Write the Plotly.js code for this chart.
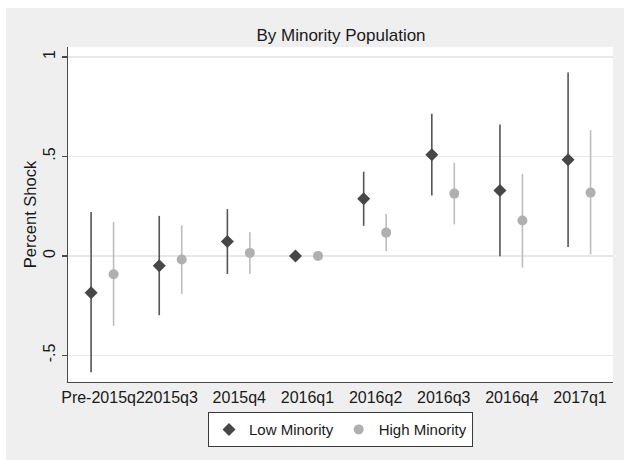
<!DOCTYPE html>
<html>
<head>
<meta charset="utf-8">
<script src="https://cdn.plot.ly/plotly-3.0.1.min.js"></script>
<style>html,body{margin:0;padding:0;background:#fff;}#chart{width:624px;height:460px;}</style>
</head>
<body>
<div id="chart"></div>
<script>
// Categories and tick labels
const categories = ["Pre-2015q2", "2015q3", "2015q4", "2016q1", "2016q2", "2016q3", "2016q4", "2017q1"];
const catPos = [1, 2, 3, 4, 5, 6, 7, 8];

// Low Minority: point estimates and CI bounds
const lowEst   = [-0.185, -0.049, 0.072, 0.000, 0.287, 0.508, 0.329, 0.483];
const lowLower = [-0.585, -0.298, -0.091, 0.000, 0.151, 0.303, -0.002, 0.044];
const lowUpper = [0.220, 0.201, 0.235, 0.000, 0.423, 0.714, 0.661, 0.922];

// High Minority: point estimates and CI bounds
const highEst   = [-0.092, -0.018, 0.015, 0.000, 0.117, 0.313, 0.178, 0.318];
const highLower = [-0.352, -0.191, -0.091, 0.000, 0.024, 0.158, -0.059, 0.007];
const highUpper = [0.170, 0.154, 0.119, 0.000, 0.211, 0.469, 0.412, 0.632];

const yTickVals = [-0.5, 0, 0.5, 1];
const yTickText = ["-.5", "0", ".5", "1"];

const lowOffset = -0.175, highOffset = 0.155;
const FONT = "Liberation Sans, Arial, sans-serif";

function trace(name, est, lo, hi, off, symbol, size, mcolor, lcolor) {
  return {
    type: "scatter", mode: "markers", name: name,
    x: catPos.map(p => p + off), y: est,
    marker: {symbol: symbol, size: size, color: mcolor},
    error_y: {type: "data", symmetric: false,
      array: hi.map((h, i) => h - est[i]),
      arrayminus: lo.map((l, i) => est[i] - l),
      width: 0, thickness: 1.6, color: lcolor},
    hoverinfo: "x+y"
  };
}

const data = [
  trace("Low Minority", lowEst, lowLower, lowUpper, lowOffset, "diamond", 10, "#474747", "#555555"),
  trace("High Minority", highEst, highLower, highUpper, highOffset, "circle", 10, "#b0b0b0", "#bdbdbd")
];

const layout = {
  width: 624, height: 460,
  margin: {l: 68, r: 11, t: 47, b: 78},
  paper_bgcolor: "#ffffff",
  plot_bgcolor: "rgba(0,0,0,0)",
  font: {family: FONT, color: "#1a1a1a", size: 16},
  title: {text: "By Minority Population", font: {family: FONT, size: 17, color: "#1a1a1a"},
    x: 0.5465, xanchor: "center", y: 0.924, yanchor: "middle", yref: "container"},
  shapes: [
    {type: "rect", xref: "paper", yref: "paper", x0: -0.1138, x1: 1.03, y0: -0.26, y1: 1.1164,
      fillcolor: "#efefef", line: {width: 0}, layer: "below"},
    {type: "rect", xref: "paper", yref: "paper", x0: 0, x1: 1, y0: 0, y1: 1,
      fillcolor: "#ffffff", line: {width: 0}, layer: "below"}
  ],
  xaxis: {
    range: [0.486, 8.484], tickvals: catPos, ticktext: categories, tickangle: 0,
    showgrid: false, zeroline: false, showline: true, linecolor: "#4a4a4a", linewidth: 1.3,
    ticks: "", tickfont: {family: FONT, size: 16, color: "#1a1a1a"}, fixedrange: true
  },
  yaxis: {
    range: [-0.634, 1.05], tickvals: yTickVals, ticktext: yTickText, tickangle: -90,
    showgrid: true, gridcolor: "#e8e8e8", gridwidth: 1.3, zeroline: false,
    showline: true, linecolor: "#4a4a4a", linewidth: 1.3,
    ticks: "outside", ticklen: 5, tickcolor: "#4a4a4a", tickwidth: 1.3,
    tickfont: {family: FONT, size: 16, color: "#1a1a1a"},
    title: {text: "Percent Shock", font: {family: FONT, size: 16.5, color: "#1a1a1a"}, standoff: 0},
    fixedrange: true
  },
  showlegend: true,
  legend: {orientation: "h", x: 0.5, xanchor: "center", y: -0.09, yanchor: "top",
    bgcolor: "#ffffff", bordercolor: "#3a3a3a", borderwidth: 1,
    font: {family: FONT, size: 15, color: "#1a1a1a"}, itemwidth: 30}
};

Plotly.newPlot("chart", data, layout, {displayModeBar: false, staticPlot: true});
</script>
</body>
</html>
